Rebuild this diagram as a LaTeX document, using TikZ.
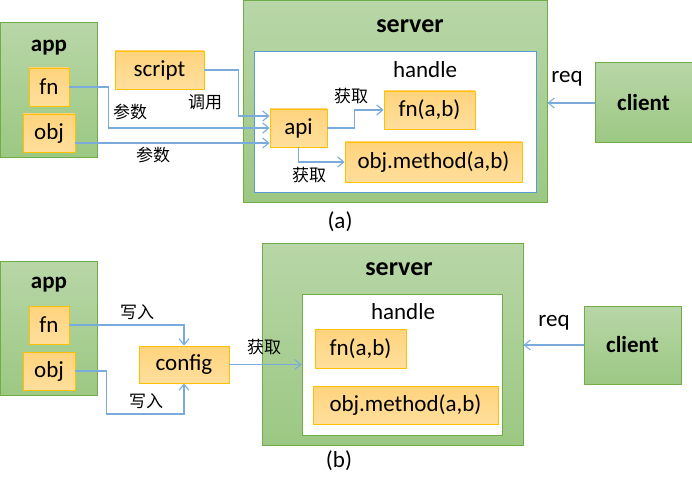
\documentclass[tikz,border=0pt]{standalone}
\usepackage{fontspec}
\setmainfont{Carlito}
\newfontfamily\cjk{Noto Sans CJK SC}
\usetikzlibrary{arrows.meta}

\definecolor{grnT}{RGB}{184,214,167}
\definecolor{grnB}{RGB}{156,200,131}
\definecolor{grnD}{RGB}{112,173,71}
\definecolor{orgT}{RGB}{255,211,125}
\definecolor{orgB}{RGB}{255,223,156}
\definecolor{orgD}{RGB}{255,192,0}
\definecolor{lnk}{RGB}{122,171,220}
\definecolor{hdlD}{RGB}{91,155,213}

\begin{document}
\begin{tikzpicture}[
  x=1pt, y=-1pt,
  grp/.style={draw=grnD, line width=1pt, top color=grnT, bottom color=grnB,
              inner sep=0pt},
  item/.style={draw=orgD, line width=0.9pt, top color=orgT, bottom color=orgB,
               inner sep=0pt, font=\fontsize{23}{23}\selectfont},
  hdl/.style={fill=white, line width=1pt, inner sep=0pt},
  ttl/.style={font=\fontsize{23}{23}\selectfont\bfseries},
  txt/.style={font=\fontsize{23}{23}\selectfont},
  lbl/.style={font=\fontsize{17}{17}\selectfont\cjk, inner sep=0pt},
  link/.style={-{Straight Barb[length=6pt,width=10pt]}, draw=lnk, line width=1.1pt},
]
  \useasboundingbox (0,0) rectangle (692,481);

  % ======== (a) ========
  % --- app ---
  \node[grp, minimum width=97pt, minimum height=134pt] (appA) at (48.5,90) {};
  \node[ttl] (appAt) at (49,48) {app};
  \node[item, minimum width=40pt, minimum height=38pt] (fnA) at (49,87) {fn};
  \node[item, minimum width=52pt, minimum height=38pt] (objA) at (49,133) {obj};
  \node[item, minimum width=89pt, minimum height=38pt] (scrA) at (159.5,70) {script};

  % --- server ---
  \node[grp, minimum width=304pt, minimum height=201pt] (srvA) at (395,101.5) {};
  \node[ttl, font=\fontsize{26}{26}\selectfont\bfseries] (srvAt) at (410,26) {server};
  \node[hdl, draw=hdlD, minimum width=282pt, minimum height=140pt] (hdlA) at (395,122) {};
  \node[txt] (hdlAt) at (425,70) {handle};
  \node[item, minimum width=57pt, minimum height=38pt] (apiA) at (298.5,128) {api};
  \node[item, minimum width=91pt, minimum height=38pt] (fnabA) at (429.5,110) {fn(a,b)};
  \node[item, minimum width=177pt, minimum height=40pt] (objmA) at (433.5,162) {obj.method(a,b)};

  % --- client ---
  \node[grp, ttl, minimum width=97pt, minimum height=80pt] (cliA) at (643.5,103) {client};

  % --- connectors ---
  \draw[link] (fnA.east) -- ++(39,0) |- (apiA.west);
  \draw[link] ([yshift=-10pt]objA.east) -- ([yshift=-15pt]apiA.west);
  \draw[link] (scrA.east) -- ++(34,0) |- ([yshift=12pt]apiA.west);
  \draw[link] (apiA.east) -- ++(27,0) |- (fnabA.west);
  \draw[link] (apiA.south) |- (objmA.west);
  \draw[link] (cliA.west) -- (cliA.west -| srvA.east);

  \node[lbl] at (130,112) {参数};
  \node[lbl] at (153,155) {参数};
  \node[lbl] at (205,102) {调用};
  \node[lbl] at (351,96) {获取};
  \node[lbl] at (309,175) {获取};
  \node[txt] at (567,79) {req};
  \node[txt] (capA) at (340,222) {(a)};

  % ======== (b) ========
  % --- app ---
  \node[grp, minimum width=97pt, minimum height=134pt] (appB) at (48.5,328) {};
  \node[ttl] (appBt) at (49,285) {app};
  \node[item, minimum width=40pt, minimum height=38pt] (fnB) at (49,325) {fn};
  \node[item, minimum width=52pt, minimum height=38pt] (objB) at (49,371) {obj};
  \node[item, minimum width=90pt, minimum height=37pt] (cfgB) at (184,364.5) {config};

  % --- server ---
  \node[grp, minimum width=261pt, minimum height=202pt] (srvB) at (392.5,344) {};
  \node[ttl, font=\fontsize{26}{26}\selectfont\bfseries] (srvBt) at (399,269) {server};
  \node[hdl, draw=grnD, minimum width=200pt, minimum height=141pt] (hdlB) at (402,364.5) {};
  \node[txt] (hdlBt) at (403,312) {handle};
  \node[item, minimum width=91pt, minimum height=39pt] (fnabB) at (360.5,348.5) {fn(a,b)};
  \node[item, minimum width=185pt, minimum height=38pt] (objmB) at (405.5,405) {obj.method(a,b)};

  % --- client ---
  \node[grp, ttl, minimum width=97pt, minimum height=78pt] (cliB) at (632.5,345) {client};

  % --- connectors ---
  \draw[link] (fnB.east) -| (cfgB.north);
  \draw[link] (objB.east) -- ++(31,0) -- ++(0,43) -| (cfgB.south);
  \draw[link] (cfgB.east) -- (cfgB.east -| hdlB.west);
  \draw[link] (cliB.west) -- (cliB.west -| srvB.east);

  \node[lbl] at (137,312) {写入};
  \node[lbl] at (146,401) {写入};
  \node[lbl] at (264,347) {获取};
  \node[txt] at (554,323) {req};
  \node[txt] (capB) at (339,461) {(b)};

\end{tikzpicture}
\end{document}
